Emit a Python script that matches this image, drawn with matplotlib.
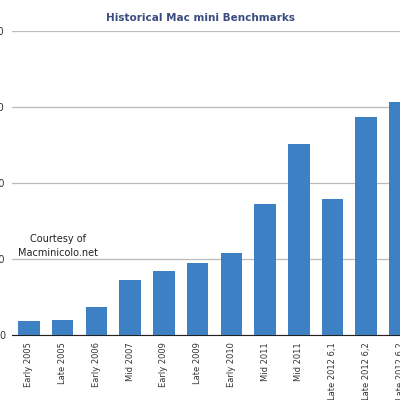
import matplotlib.pyplot as plt

models = ['Early 2005', 'Late 2005', 'Early 2006', 'Mid 2007', 'Early 2009', 'Late 2009',
          'Early 2010', 'Mid 2011', 'Mid 2011', 'Late 2012 6,1', 'Late 2012 6,2', 'Late 2012 6,2']
scores = [720, 800, 1480, 2880, 3360, 3800, 4320, 6880, 10040, 7160, 11480, 12280]
yticks = [0, 4000, 8000, 12000, 16000]

fig = plt.figure(figsize=(4, 4), dpi=100)
ax = fig.add_axes([0.03, 0.1625, 0.97, 0.76])

ax.bar(range(len(scores)), scores, width=0.64, color='#3d80c4', zorder=3)
ax.set_xlim(-0.5, 10.85)
ax.set_ylim(0, 16000)
ax.set_yticks(yticks)
ax.set_yticklabels([str(v) for v in yticks], fontsize=7, color='#333333')
ax.set_xticks(range(len(models)))
ax.set_xticklabels(models, rotation=90, fontsize=6, color='#333333')
ax.tick_params(length=0, pad=5)
ax.grid(axis='y', color='#bbbbbb', linewidth=0.9, zorder=0)
for s in ['top', 'right', 'left']:
    ax.spines[s].set_visible(False)
ax.spines['bottom'].set_color('#222222')

fig.text(0.5, 0.955, 'Historical Mac mini Benchmarks', ha='center', va='center',
         fontsize=7.5, fontweight='bold', color='#3b4c80')
fig.text(0.145, 0.385, 'Courtesy of\nMacminicolo.net', ha='center', va='center',
         fontsize=7, color='#222222', linespacing=1.4)

fig.savefig('out.png', dpi=100)
